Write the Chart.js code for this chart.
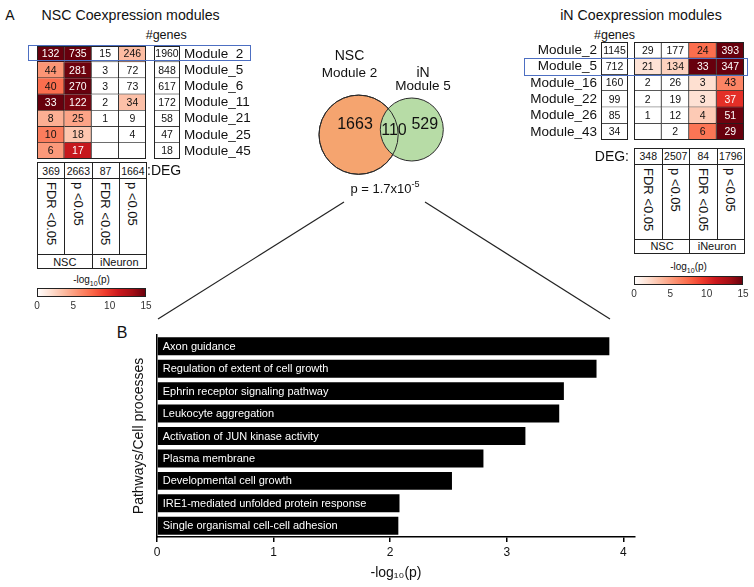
<!DOCTYPE html>
<html>
<head>
<meta charset="utf-8">
<script src="https://cdn.jsdelivr.net/npm/chart.js@4.4.1/dist/chart.umd.min.js"></script>
<style>
  body { margin: 0; background: #fff; }
  #fig { position: relative; width: 754px; height: 587px; overflow: hidden;
         font-family: "Liberation Sans", Arial, Helvetica, sans-serif; color: #111; }
  sub, sup { font-size: 0.7em; line-height: 0; }
</style>
</head>
<body>
<div id="fig"></div>
<script>
// ---- data ----
const nscModules = ['Module_2', 'Module_5', 'Module_6', 'Module_11', 'Module_21', 'Module_25', 'Module_45'];
const nscGenes = [1960, 848, 617, 172, 58, 47, 18];
const nscCountFdrNsc = [132, 44, 40, 33, 8, 10, 6];
const nscCountPNsc   = [735, 281, 270, 122, 25, 18, 17];
const nscCountFdrIn  = [15, 3, 3, 2, 1, null, null];
const nscCountPIn    = [246, 72, 73, 34, 9, 4, null];
// -log10(p)
const nscLogpFdrNsc = [15, 5.5, 7.3, 15, 4.3, 6.6, 5.3];
const nscLogpPNsc   = [15, 14.8, 15, 14.5, 4.8, 3.2, 11.5];
const nscLogpFdrIn  = [0, 0, 0, 0, 0, 0, 0];
const nscLogpPIn    = [3.7, 0, 0, 3.5, 0, 0, 0];
const nscDeg = [369, 2663, 87, 1664];

const inModules = ['Module_2', 'Module_5', 'Module_16', 'Module_22', 'Module_26', 'Module_43'];
const inGenes = [1145, 712, 160, 99, 85, 34];
const inCountFdrNsc = [29, 21, 2, 2, 1, null];
const inCountPNsc   = [177, 134, 26, 19, 12, 2];
const inCountFdrIn  = [24, 33, 3, 3, 4, 6];
const inCountPIn    = [393, 347, 43, 37, 51, 29];
const inLogpFdrNsc = [0, 1.7, 0, 0, 0, 0];
const inLogpPNsc   = [0, 2.6, 0, 0, 0, 0];
const inLogpFdrIn  = [7.3, 15, 1.9, 1.8, 3, 7];
const inLogpPIn    = [15, 15, 6.3, 10, 14.8, 15];
const inDeg = [348, 2507, 84, 1796];

const degColumns = ['FDR <0.05', 'p <0.05', 'FDR <0.05', 'p <0.05'];
const degGroups = ['NSC', 'iNeuron'];
const colorbarTicks = [0, 5, 10, 15];

const vennCounts = [1663, 110, 529]; // NSC only, shared, iN only

const pathways = [
  'Axon guidance',
  'Regulation of extent of cell growth',
  'Ephrin receptor signaling pathway',
  'Leukocyte aggregation',
  'Activation of JUN kinase activity',
  'Plasma membrane',
  'Developmental cell growth',
  'IRE1-mediated unfolded protein response',
  'Single organismal cell-cell adhesion'
];
const pathwayNegLogP = [3.88, 3.77, 3.49, 3.45, 3.16, 2.80, 2.53, 2.08, 2.07];

// ---- setup ----
const FONT = '"Liberation Sans", Arial, Helvetica, sans-serif';
Chart.defaults.font.family = FONT;
Chart.defaults.color = '#111';
Chart.defaults.animation = false;
Chart.defaults.responsive = false;
Chart.defaults.events = [];
Chart.defaults.layout.autoPadding = false;
Chart.defaults.plugins.legend.display = false;
Chart.defaults.plugins.tooltip.enabled = false;

const reds = ['#ffffff', '#fee0d2', '#fcbba1', '#fc9272', '#fb6a4a', '#ef3b2c', '#cb181d', '#a50f15', '#67000d'];
function hex2rgb(h) { return [1, 3, 5].map(i => parseInt(h.slice(i, i + 2), 16)); }
function heatColor(v) {
  const t = Math.max(0, Math.min(15, v)) / 15 * (reds.length - 1);
  const i = Math.min(Math.floor(t), reds.length - 2), f = t - i;
  const a = hex2rgb(reds[i]), b = hex2rgb(reds[i + 1]);
  return `rgb(${a.map((c, k) => Math.round(c + (b[k] - c) * f)).join(',')})`;
}

const fig = document.getElementById('fig');

function place(tag, x, y, w, h, css) {
  const el = document.createElement(tag);
  el.style.position = 'absolute';
  el.style.left = x + 'px';
  el.style.top = y + 'px';
  if (w != null) el.style.width = w + 'px';
  if (h != null) el.style.height = h + 'px';
  if (css) Object.assign(el.style, css);
  fig.appendChild(el);
  return el;
}
function canvasAt(x, y, w, h) {
  const c = place('canvas', x, y, w, h);
  c.width = w; c.height = h;
  return c;
}
// text anchored at (x, y), vertically centred
function label(html, x, y, size, align, css) {
  const el = place('div', x, y, null, null,
    Object.assign({ fontSize: size + 'px', lineHeight: '1', whiteSpace: 'nowrap' }, css || {}));
  el.innerHTML = html;
  const tx = align === 'center' ? '-50%' : align === 'right' ? '-100%' : '0';
  el.style.transform = `translate(${tx}, -50%)`;
  return el;
}
function cellBox(x, y, w, h, html, size, css) {
  const el = place('div', x, y, w + 1, h + 1, Object.assign({
    boxSizing: 'border-box', border: '1px solid #222', display: 'flex',
    alignItems: 'center', justifyContent: 'center', fontSize: size + 'px', background: '#fff'
  }, css || {}));
  el.innerHTML = html;
}
function degTable(x0, colW, y0, hDeg, hRot, hGrp, deg) {
  deg.forEach((v, i) => cellBox(x0 + i * colW, y0, colW, hDeg, v, 10.5));
  degColumns.forEach((t, i) => cellBox(x0 + i * colW, y0 + hDeg, colW, hRot,
    `<span style="writing-mode:vertical-rl;white-space:nowrap">${t}</span>`, 13,
    { alignItems: 'flex-start', paddingTop: '3px' }));
  degGroups.forEach((t, i) => cellBox(x0 + i * 2 * colW, y0 + hDeg + hRot, 2 * colW, hGrp, t, 11));
}

// ---- plugins ----
const frame = {
  id: 'frame',
  afterDatasetsDraw(chart) {
    const { ctx, chartArea: a } = chart;
    ctx.save();
    ctx.strokeStyle = '#222';
    ctx.lineWidth = 1;
    ctx.strokeRect(a.left + 0.5, a.top + 0.5, a.width - 1, a.height - 1);
    ctx.restore();
  }
};
const cellText = {
  id: 'cellText',
  afterDatasetsDraw(chart) {
    const c = chart.ctx;
    c.save();
    c.font = `10.5px ${FONT}`;
    c.textAlign = 'center';
    c.textBaseline = 'middle';
    chart.data.datasets.forEach((ds, i) => {
      chart.getDatasetMeta(i).data.forEach((bar, k) => {
        const n = ds.counts[k];
        if (n == null) return;
        const p = bar.getCenterPoint();
        c.fillStyle = ds.logp && ds.logp[k] > 8 ? '#fff' : '#111';
        c.fillText(n, p.x, p.y + 0.5);
      });
    });
    c.restore();
  }
};

// pad = extra canvas margin above/below the cells (room for axis labels)
function heatChart(canvas, modules, countCols, logpCols, yAxis, pad) {
  return new Chart(canvas, {
    type: 'bar',
    data: {
      labels: modules,
      datasets: countCols.map((col, j) => ({
        data: modules.map(() => 1),
        counts: col,
        logp: logpCols ? logpCols[j] : null,
        backgroundColor: logpCols ? logpCols[j].map(heatColor) : '#fff',
        borderColor: '#222',
        borderWidth: { top: 0, left: 0, right: 1, bottom: 1 },
        borderSkipped: false,
        barPercentage: 1,
        categoryPercentage: 1
      }))
    },
    options: {
      indexAxis: 'y',
      layout: { padding: { top: pad || 0, bottom: pad || 0, left: 0, right: 0 } },
      scales: {
        x: { stacked: true, min: 0, max: countCols.length, display: false },
        y: Object.assign({ stacked: true, display: false }, yAxis || {})
      }
    },
    plugins: [cellText, frame]
  });
}

function moduleAxis(position, width) {
  return {
    display: true,
    position: position,
    grid: { display: false, drawTicks: false },
    border: { display: false },
    ticks: { autoSkip: false, font: { size: 13.5 }, color: '#111', padding: 4 },
    afterFit: s => { s.width = width; }
  };
}

function colorbar(x, y, w) {
  new Chart(canvasAt(x - 10, y, w + 20, 28), {
    type: 'bar',
    data: {
      labels: [''],
      datasets: [{
        data: [colorbarTicks[colorbarTicks.length - 1]],
        backgroundColor: ctx => {
          const a = ctx.chart.chartArea;
          if (!a) return '#fff';
          const g = ctx.chart.ctx.createLinearGradient(a.left, 0, a.right, 0);
          reds.forEach((c, i) => g.addColorStop(i / (reds.length - 1), c));
          return g;
        },
        barPercentage: 1,
        categoryPercentage: 1
      }]
    },
    options: {
      indexAxis: 'y',
      layout: { padding: { left: 10, right: 10, top: 0, bottom: 0 } },
      scales: {
        x: {
          min: colorbarTicks[0], max: colorbarTicks[colorbarTicks.length - 1],
          afterBuildTicks: s => { s.ticks = colorbarTicks.map(v => ({ value: v })); },
          grid: { display: false, drawTicks: false }, border: { display: false },
          ticks: { font: { size: 10 }, color: '#333', padding: 3 },
          afterFit: s => { s.height = 19; }
        },
        y: { display: false }
      }
    },
    plugins: [frame]
  });
}

// ---- zoom lines ----
fig.insertAdjacentHTML('beforeend',
  '<svg style="position:absolute;left:0;top:0" width="754" height="587">' +
  '<line x1="344" y1="202" x2="158" y2="319" stroke="#222" stroke-width="1.2"/>' +
  '<line x1="425" y1="202" x2="610" y2="319" stroke="#222" stroke-width="1.2"/>' +
  '</svg>');

// ---- panel A, NSC side ----
label('A', 10, 15, 14, 'center');
label('NSC Coexpression modules', 41.5, 15, 14.2, 'left');
label('#genes', 145.7, 34.5, 12.5, 'left');
heatChart(canvasAt(37, 46, 109, 113), nscModules,
  [nscCountFdrNsc, nscCountPNsc, nscCountFdrIn, nscCountPIn],
  [nscLogpFdrNsc, nscLogpPNsc, nscLogpFdrIn, nscLogpPIn]);
heatChart(canvasAt(154, 30, 101, 145), nscModules, [nscGenes], null, moduleAxis('right', 75), 16);
degTable(37, 27.25, 162, 16, 76, 14, nscDeg);
label(':DEG', 147, 170, 14, 'left');
label('-log<sub>10</sub>(p)', 91.5, 280, 10, 'center');
colorbar(37, 288, 109);
place('div', 27.5, 45, 223, 15.5, { border: '1.5px solid #4d6fc2', boxSizing: 'border-box' });

// ---- panel A, iN side ----
label('iN Coexpression modules', 641, 15, 14.2, 'center');
label('#genes', 594, 35, 12.5, 'left');
heatChart(canvasAt(526, 26, 102, 130), inModules, [inGenes], null, moduleAxis('left', 75), 16);
heatChart(canvasAt(634, 42, 110, 98), inModules,
  [inCountFdrNsc, inCountPNsc, inCountFdrIn, inCountPIn],
  [inLogpFdrNsc, inLogpPNsc, inLogpFdrIn, inLogpPIn]);
degTable(634, 27.5, 148, 15.5, 75, 14.5, inDeg);
label('DEG:', 629, 155.5, 14, 'right');
label('-log<sub>10</sub>(p)', 688.5, 267, 10, 'center');
colorbar(634, 276, 109);
place('div', 524, 58, 224, 17.5, { border: '1.5px solid #4d6fc2', boxSizing: 'border-box' });

// ---- Venn ----
const vennLayout = { x: 290, y: 80, w: 180, h: 110,
  nsc: { x: 68.6, y: 54.7, r: 39.6 }, iN: { x: 121.8, y: 49.5, r: 31.5 } };
label('NSC', 349.5, 55, 14, 'center');
label('Module 2', 349.5, 72.5, 13.5, 'center');
label('iN', 423, 71.5, 14, 'center');
label('Module 5', 423, 86, 13.5, 'center');
const vennText = {
  id: 'vennText',
  afterDatasetsDraw(chart) {
    const c = chart.ctx;
    const a = chart.getDatasetMeta(2).data[0];
    const b = chart.getDatasetMeta(1).data[0];
    c.save();
    c.font = `16px ${FONT}`;
    c.fillStyle = '#111';
    c.textAlign = 'center';
    c.textBaseline = 'middle';
    c.fillText(vennCounts[0], a.x - 3.6, a.y - 10);
    c.fillText(vennCounts[1], (b.x - vennLayout.iN.r + a.x + vennLayout.nsc.r) / 2 + 4.7, a.y - 4);
    c.fillText(vennCounts[2], b.x + 13, b.y - 4.5);
    c.restore();
  }
};
new Chart(canvasAt(vennLayout.x, vennLayout.y, vennLayout.w, vennLayout.h), {
  type: 'scatter',
  data: {
    datasets: [
      { data: [vennLayout.nsc], pointRadius: vennLayout.nsc.r, backgroundColor: 'rgba(0,0,0,0)',
        borderColor: '#2a2a2a', borderWidth: 1, clip: false },
      { data: [vennLayout.iN], pointRadius: vennLayout.iN.r, backgroundColor: '#b7dca6',
        borderColor: '#2a2a2a', borderWidth: 1, clip: false },
      { data: [vennLayout.nsc], pointRadius: vennLayout.nsc.r, backgroundColor: '#f5a46f',
        borderColor: '#2a2a2a', borderWidth: 1, clip: false }
    ]
  },
  options: {
    layout: { padding: 0, autoPadding: false },
    scales: {
      x: { min: 0, max: vennLayout.w, display: false },
      y: { min: 0, max: vennLayout.h, reverse: true, display: false }
    }
  },
  plugins: [vennText]
});
label('p = 1.7x10<sup>-5</sup>', 385, 188, 13, 'center');

// ---- panel B ----
label('B', 122, 333, 16, 'center');
const barText = {
  id: 'barText',
  afterDatasetsDraw(chart) {
    const c = chart.ctx;
    c.save();
    c.fillStyle = '#fff';
    c.font = `11px ${FONT}`;
    c.textBaseline = 'middle';
    chart.getDatasetMeta(0).data.forEach((bar, i) => {
      c.fillText(chart.data.labels[i], bar.base + 5, bar.y + 0.5);
    });
    c.restore();
  }
};
new Chart(canvasAt(100, 320, 560, 267), {
  type: 'bar',
  data: {
    labels: pathways,
    datasets: [{ data: pathwayNegLogP, backgroundColor: '#000', barPercentage: 0.8, categoryPercentage: 1 }]
  },
  options: {
    indexAxis: 'y',
    layout: { padding: { top: 15, right: 25, left: 0, bottom: 0 } },
    scales: {
      x: {
        min: 0, max: 4.1,
        ticks: { stepSize: 1, includeBounds: false, font: { size: 12 }, color: '#111', padding: 3 },
        grid: { drawOnChartArea: false, tickLength: 5, color: '#000', lineWidth: 1.5 },
        border: { color: '#000', width: 1.5 },
        title: { display: true, text: '-log₁₀(p)', font: { size: 14 }, color: '#111', padding: { top: 0, bottom: 5 } },
        afterFit: s => { s.height = 50; }
      },
      y: {
        ticks: { display: false },
        grid: { display: false },
        border: { color: '#000', width: 1.5 },
        title: { display: true, text: 'Pathways/Cell processes', font: { size: 14 }, color: '#111', padding: { top: 31, bottom: 0 } },
        afterFit: s => { s.width = 57; }
      }
    }
  },
  plugins: [barText]
});
</script>
</body>
</html>
